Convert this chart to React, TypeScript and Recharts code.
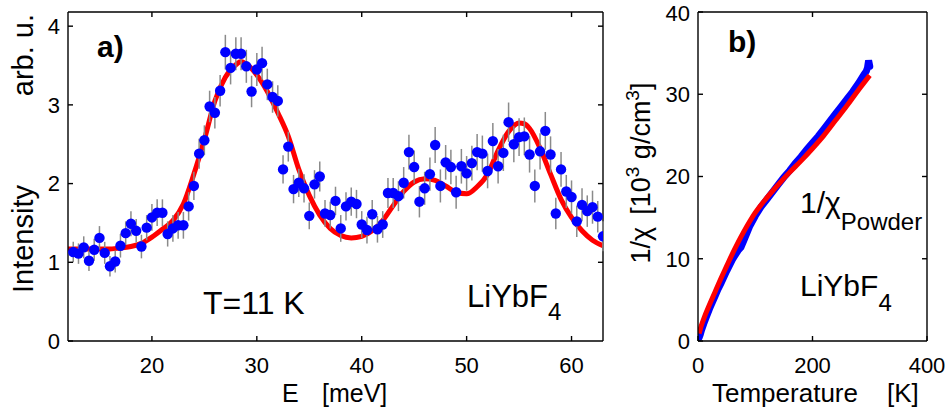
import React from "react";
import {
  ComposedChart,
  ErrorBar,
  Line,
  ReferenceLine,
  Scatter,
  XAxis,
  YAxis,
} from "recharts";

// ---- panel a) inelastic neutron spectrum at T = 11 K ----
const energy = [
  12.5, 13, 13.5, 14, 14.5, 15, 15.5, 16, 16.5, 17, 17.5, 18, 18.5, 19, 19.5, 20,
  20.5, 21, 21.5, 22, 22.5, 23, 23.5, 24, 24.5, 25, 25.5, 26, 26.5, 27, 27.5, 28,
  28.5, 29, 29.5, 30, 30.5, 31, 31.5, 32, 32.5, 33, 33.5, 34, 34.5, 35, 35.5, 36,
  36.5, 37, 37.5, 38, 38.5, 39, 39.5, 40, 40.5, 41, 41.5, 42, 42.5, 43, 43.5, 44,
  44.5, 45, 45.5, 46, 46.5, 47, 47.5, 48, 48.5, 49, 49.5, 50, 50.5, 51, 51.5, 52,
  52.5, 53, 53.5, 54, 54.5, 55, 55.5, 56, 56.5, 57, 57.5, 58, 58.5, 59, 59.5, 60,
  60.5, 61, 61.5, 62, 62.5, 63,
];
const intensity = [
  1.13, 1.11, 1.19, 1.02, 1.16, 1.31, 1.12, 0.95, 1.01, 1.21, 1.37, 1.49, 1.4, 1.2, 1.44, 1.57,
  1.63, 1.63, 1.36, 1.43, 1.47, 1.47, 1.71, 1.97, 2.38, 2.55, 2.98, 2.9, 3.18, 3.67, 3.47, 3.65,
  3.65, 3.49, 3.17, 3.45, 3.53, 3.26, 3.1, 3.05, 2.18, 2.47, 1.93, 2.01, 1.94, 1.59, 1.99, 2.09,
  1.62, 1.6, 1.78, 1.43, 1.71, 1.77, 1.74, 1.48, 1.41, 1.61, 1.42, 1.48, 1.88, 1.88, 1.84, 2.01,
  2.4, 2.21, 1.77, 1.94, 2.12, 2.49, 1.97, 2.27, 2.21, 1.89, 2.22, 2.13, 2.26, 2.4, 2.38, 2.16,
  2.54, 2.22, 2.39, 2.78, 2.5, 2.59, 2.6, 2.37, 1.97, 2.41, 2.67, 2.37, 1.62, 2.18, 1.9, 1.83,
  1.52, 1.73, 1.65, 1.7, 1.58, 1.33,
];
const errors = [
  0.13, 0.13, 0.14, 0.13, 0.14, 0.15, 0.14, 0.13, 0.14, 0.15, 0.15, 0.16, 0.15, 0.15, 0.16, 0.17,
  0.17, 0.17, 0.16, 0.17, 0.17, 0.17, 0.18, 0.18, 0.19, 0.19, 0.2, 0.2, 0.2, 0.22, 0.21, 0.21,
  0.21, 0.21, 0.2, 0.21, 0.21, 0.2, 0.2, 0.2, 0.18, 0.19, 0.18, 0.18, 0.18, 0.17, 0.18, 0.19,
  0.17, 0.17, 0.18, 0.17, 0.18, 0.18, 0.18, 0.17, 0.17, 0.18, 0.17, 0.17, 0.19, 0.19, 0.19, 0.2,
  0.22, 0.21, 0.2, 0.21, 0.21, 0.23, 0.21, 0.22, 0.22, 0.21, 0.22, 0.22, 0.22, 0.23, 0.23, 0.22,
  0.23, 0.22, 0.23, 0.25, 0.23, 0.24, 0.24, 0.23, 0.21, 0.23, 0.24, 0.23, 0.2, 0.22, 0.21, 0.21,
  0.2, 0.21, 0.2, 0.21, 0.2, 0.19,
];

// crystal-field fit (red curve)
const fitE = [
  12, 14, 16, 17, 18, 19, 20, 21, 22, 23, 24, 25, 26, 27, 28, 28.5, 29, 30, 31, 32, 33, 34,
  35, 36, 37, 38, 39, 40, 41, 42, 43, 44, 45, 46, 47, 48, 49, 50, 51, 52, 53, 54, 55,
  55.5, 56, 57, 58, 59, 60, 61, 62, 63,
];
const fitI = [
  1.17, 1.17, 1.17, 1.18, 1.2, 1.24, 1.32, 1.42, 1.53, 1.74, 2.12, 2.56, 3.05, 3.35, 3.51,
  3.55, 3.52, 3.38, 3.17, 2.9, 2.6, 2.18, 1.85, 1.6, 1.43, 1.34, 1.31, 1.33, 1.4, 1.53, 1.72,
  1.9, 2.02, 2.06, 2.04, 1.97, 1.89, 1.87, 1.96, 2.12, 2.42, 2.66, 2.77, 2.76, 2.7, 2.45,
  2.12, 1.8, 1.57, 1.4, 1.28, 1.21,
];

const energyDomain = [12, 63];
const intensityDomain = [0, 4.18];
const energyTicks = [20, 30, 40, 50, 60];
const intensityTicks = [0, 1, 2, 3, 4];

// ---- panel b) inverse susceptibility ----
const tempK = [
  2, 4, 6, 8, 10, 15, 20, 25, 30, 35, 40, 50, 60, 70, 75, 80, 90, 100, 110, 120, 130, 140,
  150, 160, 170, 180, 190, 200, 210, 220, 230, 240, 250, 260, 270, 280, 290, 294, 296, 298, 300,
];
const invChi = [
  0.4, 0.8, 1.3, 1.7, 2.1, 3.0, 3.9, 4.7, 5.5, 6.3, 7.0, 8.5, 9.9, 11.0, 11.4, 12.2, 13.9,
  15.2, 16.3, 17.2, 18.1, 19.0, 19.9, 20.7, 21.6, 22.4, 23.3, 24.1, 24.9, 25.8, 26.7, 27.6,
  28.5, 29.4, 30.3, 31.3, 32.4, 32.8, 33.2, 34.1, 33.4,
];
const fitT = [2, 5, 10, 20, 30, 40, 50, 60, 70, 80, 90, 100, 120, 140, 160, 180, 200, 220, 240, 260, 280, 300];
const fitChi = [
  0.9, 1.7, 2.7, 4.4, 6.0, 7.6, 9.1, 10.6, 12.0, 13.3, 14.5, 15.6, 17.4, 19.0, 20.5, 21.9,
  23.4, 25.0, 26.8, 28.6, 30.5, 32.3,
];

const tempDomain = [0, 400];
const chiDomain = [0, 40];
const tempTicks = [0, 200, 400];
const chiTicks = [0, 10, 20, 30, 40];

const FONT = "'Liberation Sans', Arial, Helvetica, sans-serif";
const tickStyle = { fill: "#000", fontSize: 22, fontFamily: FONT };
const axisLine = { stroke: "#000", strokeWidth: 1.4 };

const spectrum = energy.map((e, k) => ({ e, i: intensity[k], err: errors[k] }));
const spectrumFit = fitE.map((e, k) => ({ e, i: fitI[k] }));
const chiData = tempK.map((t, k) => ({ t, v: invChi[k] }));
const chiFit = fitT.map((t, k) => ({ t, v: fitChi[k] }));

const Dot = (p: any) => <circle cx={p.cx} cy={p.cy} r={5.2} fill="#0000FF" />;

// Top and right edges of the MATLAB-style box, with short inward ticks.
// tx / ty are the tick lengths in data units (~5px).
function boxEdges(xd: number[], yd: number[], xTicks: number[], yTicks: number[], tx: number, ty: number) {
  const [x0, x1] = xd;
  const [, y1] = yd;
  const lines = [
    <ReferenceLine key="top" y={y1} stroke="#000" strokeWidth={1.4} ifOverflow="visible" />,
    <ReferenceLine key="right" x={x1} stroke="#000" strokeWidth={1.4} ifOverflow="visible" />,
  ];
  xTicks
    .filter((t) => t > x0 && t < x1)
    .forEach((t) =>
      lines.push(
        <ReferenceLine
          key={`xt${t}`}
          segment={[{ x: t, y: y1 }, { x: t, y: y1 - ty }]}
          stroke="#000"
          strokeWidth={1.4}
          ifOverflow="visible"
        />,
      ),
    );
  yTicks
    .filter((v) => v > yd[0] && v < y1)
    .forEach((v) =>
      lines.push(
        <ReferenceLine
          key={`yt${v}`}
          segment={[{ x: x1, y: v }, { x: x1 - tx, y: v }]}
          stroke="#000"
          strokeWidth={1.4}
          ifOverflow="visible"
        />,
      ),
    );
  return lines;
}

function PanelA() {
  return (
    <ComposedChart
      width={620}
      height={412}
      margin={{ top: 12, right: 17, bottom: 41, left: 8 }}
      style={{ position: "absolute", left: 0, top: 0 }}
    >
      <XAxis
        dataKey="e"
        type="number"
        domain={energyDomain}
        ticks={energyTicks}
        allowDataOverflow
        height={30}
        tickSize={-5}
        tickMargin={21}
        tick={tickStyle}
        axisLine={axisLine}
        tickLine={axisLine}
      />
      <YAxis
        dataKey="i"
        type="number"
        domain={intensityDomain}
        ticks={intensityTicks}
        allowDataOverflow
        width={60}
        tickSize={-5}
        tickMargin={13}
        tick={tickStyle}
        axisLine={axisLine}
        tickLine={axisLine}
      />
      {boxEdges(energyDomain, intensityDomain, energyTicks, intensityTicks, 0.48, 0.064)}
      <Line
        data={spectrumFit}
        dataKey="i"
        type="monotone"
        stroke="#FF0000"
        strokeWidth={5}
        dot={false}
        isAnimationActive={false}
      />
      <Scatter data={spectrum} dataKey="i" shape={Dot} isAnimationActive={false}>
        <ErrorBar dataKey="err" direction="y" width={0} stroke="#8a8a8a" strokeWidth={1.5} />
      </Scatter>
    </ComposedChart>
  );
}

function PanelB() {
  return (
    <ComposedChart
      width={330}
      height={412}
      margin={{ top: 12, right: 23, bottom: 41, left: 18 }}
      style={{ position: "absolute", left: 620, top: 0 }}
    >
      <XAxis
        dataKey="t"
        type="number"
        domain={tempDomain}
        ticks={tempTicks}
        allowDataOverflow
        height={30}
        tickSize={-5}
        tickMargin={21}
        tick={tickStyle}
        axisLine={axisLine}
        tickLine={axisLine}
      />
      <YAxis
        dataKey="v"
        type="number"
        domain={chiDomain}
        ticks={chiTicks}
        allowDataOverflow
        width={60}
        tickSize={-5}
        tickMargin={13}
        tick={tickStyle}
        axisLine={axisLine}
        tickLine={axisLine}
      />
      {boxEdges(tempDomain, chiDomain, tempTicks, chiTicks, 8.7, 0.61)}
      <Line
        data={chiData}
        dataKey="v"
        type="linear"
        stroke="#0000FF"
        strokeWidth={7}
        strokeLinecap="round"
        dot={false}
        isAnimationActive={false}
      />
      <Line
        data={chiFit}
        dataKey="v"
        type="monotone"
        stroke="#FF0000"
        strokeWidth={5}
        dot={false}
        isAnimationActive={false}
      />
    </ComposedChart>
  );
}

// axis titles and in-panel annotations
function Labels() {
  return (
    <svg
      width={950}
      height={412}
      style={{ position: "absolute", left: 0, top: 0, pointerEvents: "none" }}
      fontFamily={FONT}
      fill="#000"
    >
      <text transform="translate(33,293) rotate(-90)" textAnchor="start" fontSize={29}>
        Intensity
      </text>
      <text transform="translate(33,14) rotate(-90)" textAnchor="end" fontSize={29}>
        arb. u.
      </text>
      <text y={402} fontSize={25}>
        <tspan x={282}>E</tspan>
        <tspan x={322}>[meV]</tspan>
      </text>
      <text x={97} y={57} fontSize={30} fontWeight="bold">a)</text>
      <text x={203} y={314} fontSize={32}>T=11 K</text>
      <text x={467} y={307} fontSize={31}>
        LiYbF<tspan fontSize={24} dy={13}>4</tspan>
      </text>

      <text transform="translate(650,173) rotate(-90)" textAnchor="middle" fontSize={27}>
        <tspan>1/χ</tspan>
        <tspan dx={12}>[10</tspan>
        <tspan fontSize={19} dy={-11}>3</tspan>
        <tspan dy={11}> g/cm</tspan>
        <tspan fontSize={19} dy={-11}>3</tspan>
        <tspan dy={11}>]</tspan>
      </text>
      <text y={402} fontSize={26}>
        <tspan x={712}>Temperature</tspan>
        <tspan x={887}>[K]</tspan>
      </text>
      <text x={728} y={52} fontSize={30} fontWeight="bold">b)</text>
      <text x={800} y={213} fontSize={30}>
        1/χ<tspan fontSize={24} dy={17}>Powder</tspan>
      </text>
      <text x={800} y={296} fontSize={30}>
        LiYbF<tspan fontSize={24} dy={15}>4</tspan>
      </text>
    </svg>
  );
}

export default function App() {
  return (
    <div style={{ position: "absolute", left: 0, top: 0, width: 950, height: 412, background: "#fff" }}>
      <PanelA />
      <PanelB />
      <Labels />
    </div>
  );
}
